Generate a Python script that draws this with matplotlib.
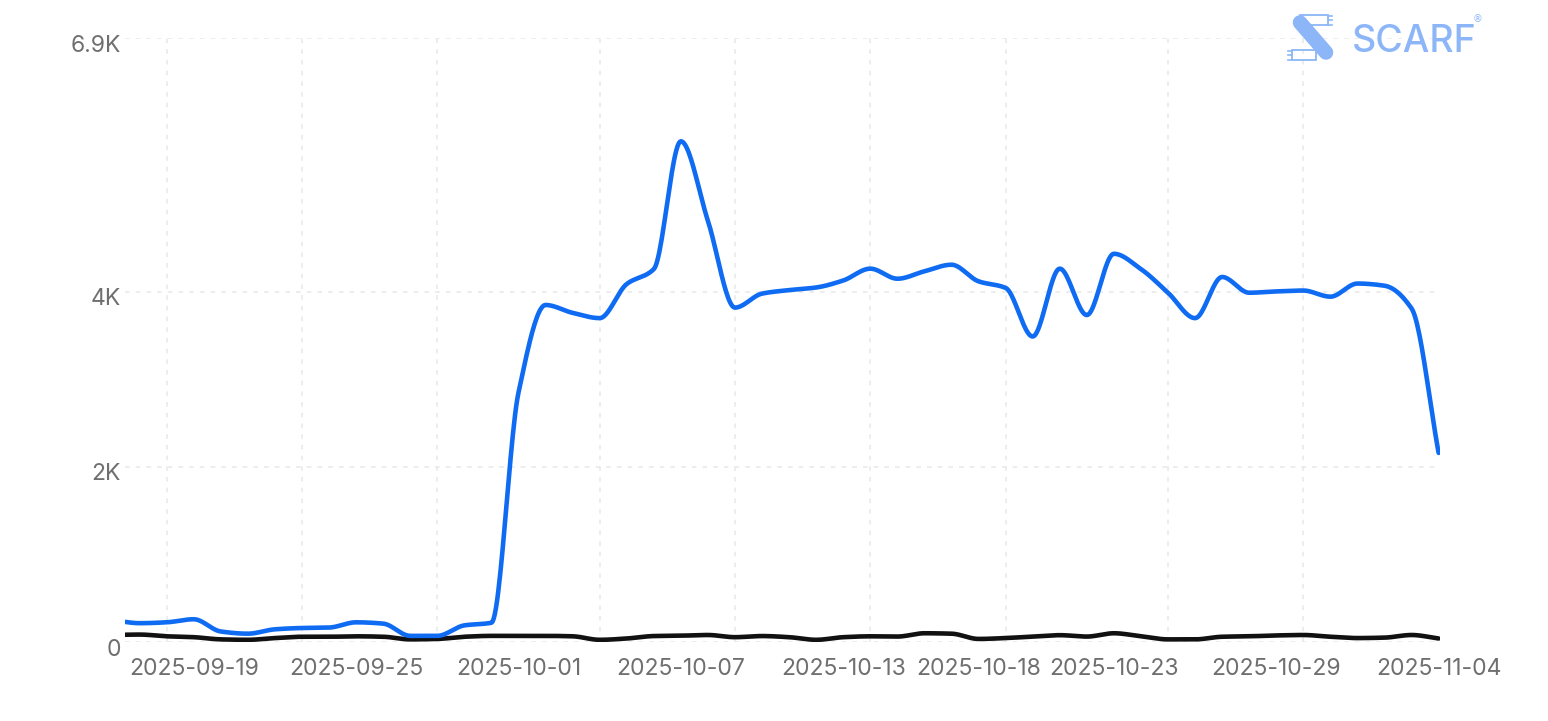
import numpy as np
import pandas as pd
import matplotlib
matplotlib.use('Agg')
import matplotlib.pyplot as plt
import matplotlib.dates as mdates
from matplotlib.transforms import ScaledTranslation
from matplotlib.patches import Rectangle
from matplotlib.lines import Line2D

# daily values, 2025-09-16 .. 2025-11-04 (first day only partly visible)
dates = pd.date_range('2025-09-16', '2025-11-04', freq='D')
blue_values = [250, 215, 225, 260, 120, 95, 145, 160, 165, 225,
               210, 70, 70, 190, 220, 2850, 3850, 3760, 3700, 4090,
               4260, 5720, 4810, 3820, 3980, 4020, 4050, 4130, 4265, 4150,
               4235, 4310, 4120, 4045, 3490, 4265, 3735, 4435, 4260, 3990,
               3700, 4170, 3990, 4005, 4015, 3945, 4095, 4070, 3810, 2160]
black_values = [80, 85, 65, 55, 30, 25, 45, 60, 60, 65,
                60, 30, 35, 60, 70, 70, 70, 65, 25, 40,
                68, 72, 80, 55, 68, 55, 25, 55, 65, 62,
                100, 95, 35, 45, 62, 78, 62, 100, 65, 30,
                30, 60, 65, 75, 80, 60, 45, 50, 80, 40]

label_dates = ['2025-09-19', '2025-09-25', '2025-10-01', '2025-10-07', '2025-10-13',
               '2025-10-18', '2025-10-23', '2025-10-29', '2025-11-04']
grid_dates = ['2025-09-18', '2025-09-23', '2025-09-28', '2025-10-04', '2025-10-09',
              '2025-10-14', '2025-10-19', '2025-10-25', '2025-10-30', '2025-11-04']
y_ticks = [0, 2000, 4000, 6900]
y_labels = ['0', '2K', '4K', '6.9K']

W, H = 1548, 721
BLUE = '#0f6cf2'
LOGO = '#8cb6f7'
GREY = '#6f6f6f'


def smooth(x, y, n=24):
    # monotone cubic (Fritsch-Carlson) through the points
    x = np.asarray(x, float)
    y = np.asarray(y, float)
    h = np.diff(x)
    d = np.diff(y) / h
    m = np.zeros_like(y)
    m[0], m[-1] = d[0], d[-1]
    for k in range(1, len(y) - 1):
        if d[k - 1] * d[k] > 0:
            w1 = 2 * h[k] + h[k - 1]
            w2 = h[k] + 2 * h[k - 1]
            m[k] = (w1 + w2) / (w1 / d[k - 1] + w2 / d[k])
    xs, ys = [], []
    t = np.linspace(0, 1, n, endpoint=False)
    for k in range(len(h)):
        h00 = 2 * t**3 - 3 * t**2 + 1
        h10 = t**3 - 2 * t**2 + t
        h01 = -2 * t**3 + 3 * t**2
        h11 = t**3 - t**2
        xs.append(x[k] + t * h[k])
        ys.append(h00 * y[k] + h10 * h[k] * m[k] + h01 * y[k + 1] + h11 * h[k] * m[k + 1])
    xs.append([x[-1]])
    ys.append([y[-1]])
    return np.concatenate(xs), np.concatenate(ys)


fig = plt.figure(figsize=(W / 100, H / 100), dpi=100)
ax = fig.add_axes([125 / W, 1 - 642 / H, (1440 - 125) / W, (642 - 38) / H])

xnum = mdates.date2num(dates)
bx, by = smooth(xnum, blue_values)
kx, ky = smooth(xnum, black_values)
ax.plot(kx, ky, color='#111111', lw=3.3, solid_capstyle='round', zorder=3)
ax.plot(bx, by, color=BLUE, lw=3.3, solid_capstyle='round', zorder=4)

day0 = mdates.date2num(pd.Timestamp('2025-09-17'))
ax.set_xlim(day0 - 0.54, day0 + 48.05)
ax.set_ylim(0, 6900)

ax.set_xticks(mdates.date2num(pd.to_datetime(label_dates)))
ax.set_xticklabels(label_dates)
ax.set_xticks(mdates.date2num(pd.to_datetime(grid_dates)), minor=True)
ax.set_yticks(y_ticks)
ax.set_yticklabels(y_labels)

ax.grid(False)
ax.grid(True, which='minor', axis='x', color='#e8e8e8', lw=1.1, linestyle=(0, (3, 4)))
ax.grid(True, which='major', axis='y', color='#e8e8e8', lw=1.1, linestyle=(0, (3, 4)))
ax.set_axisbelow(True)

for s in ax.spines.values():
    s.set_visible(False)
ax.tick_params(which='both', length=0)
ax.tick_params(axis='x', pad=11.5, labelsize=16.5, labelcolor=GREY)
ax.tick_params(axis='y', pad=3, labelsize=16.5, labelcolor=GREY)
for lab in ax.get_xticklabels() + ax.get_yticklabels():
    lab.set_family('Inter')
shift = ScaledTranslation(0, -5 / 100, fig.dpi_scale_trans)
for lab in ax.get_yticklabels():
    lab.set_transform(lab.get_transform() + shift)


# Scarf logo, top right
def fx(px):
    return px / W


def fy(py):
    return 1 - py / H


tf = fig.transFigure
fig.add_artist(Rectangle((fx(1300), fy(25)), fx(1328) - fx(1300), fy(15) - fy(25),
                         transform=tf, fill=False, edgecolor=LOGO, lw=1.3))
fig.add_artist(Rectangle((fx(1292), fy(60)), fx(1316) - fx(1292), fy(50) - fy(60),
                         transform=tf, fill=False, edgecolor=LOGO, lw=1.3))
fig.add_artist(Line2D([fx(1300), fx(1326)], [fy(22.5), fy(52.5)], transform=tf,
                      color=LOGO, lw=10.5, solid_capstyle='round'))
for yy in (15.5, 20, 24.5):
    fig.add_artist(Line2D([fx(1328), fx(1332)], [fy(yy), fy(yy)], transform=tf, color=LOGO, lw=1.2))
for yy in (50.5, 55, 59.5):
    fig.add_artist(Line2D([fx(1288), fx(1292)], [fy(yy), fy(yy)], transform=tf, color=LOGO, lw=1.2))
fig.text(fx(1352), fy(52), 'SCARF', color=LOGO, fontsize=27, family='Inter',
         fontweight='medium', ha='left', va='baseline')
fig.text(fx(1478), fy(19), '®', color=LOGO, fontsize=7, family='DejaVu Sans',
         ha='center', va='center')

fig.savefig('out.png', dpi=100, facecolor='white')
